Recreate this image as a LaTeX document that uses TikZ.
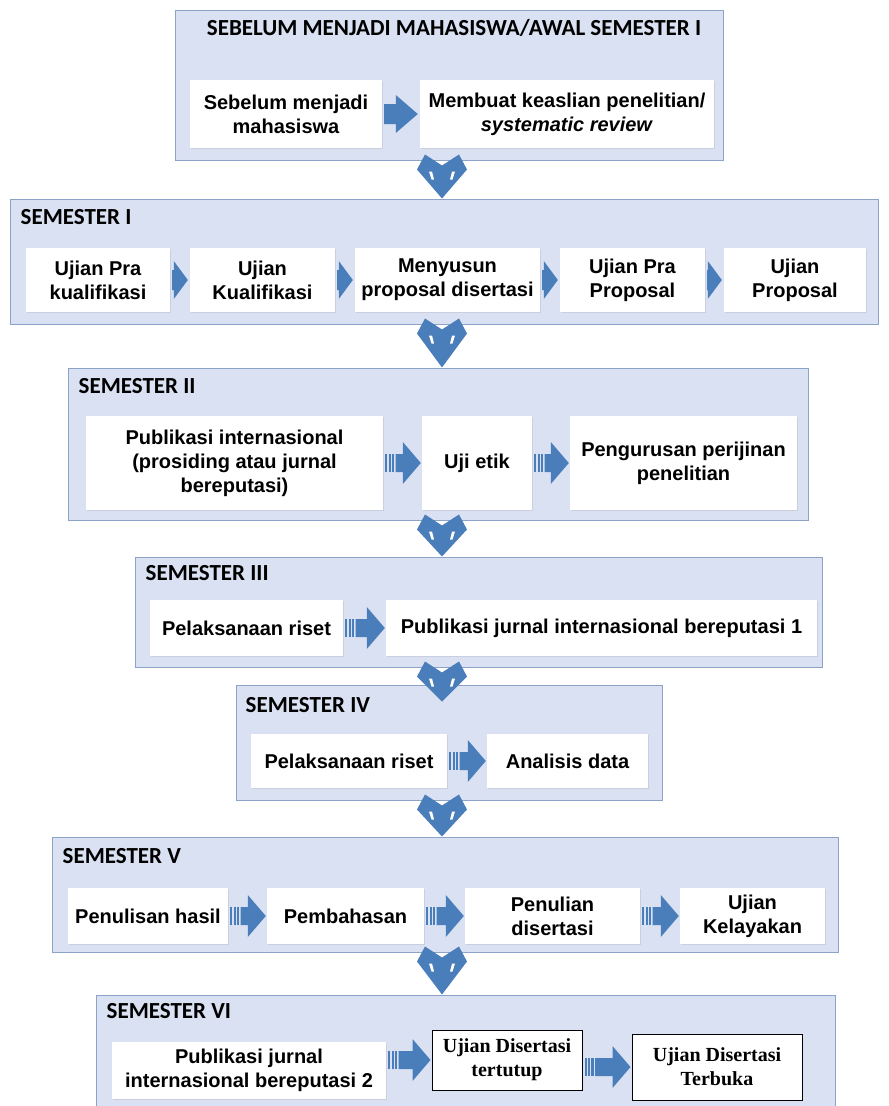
\documentclass[tikz,border=0pt]{standalone}
\usepackage{fontspec}
\setmainfont{Liberation Sans}
\newfontfamily\titlefont{Carlito}
\newfontfamily\examfont{Liberation Serif}
\usetikzlibrary{calc,shadows}

\definecolor{panelfill}{RGB}{218,225,242}
\definecolor{paneldraw}{RGB}{140,163,199}
\definecolor{arrowblue}{RGB}{74,126,187}

% plain block arrow between two cards
\newcommand{\flowarrow}[3][14]{%
  \fill[arrowblue] ($(#2.east|-#3.west)+(2,-10)$) -- ($(#3.west)+(-#1-2,-10)$) -- ($(#3.west)+(-#1-2,-19)$)
    -- ($(#3.west)+(-2,0)$) -- ($(#3.west)+(-#1-2,19)$) -- ($(#3.west)+(-#1-2,10)$) -- ($(#2.east|-#3.west)+(2,10)$) -- cycle;}
% block arrow with stripes at its tail
\newcommand{\stripearrow}[2]{%
  \foreach \k in {0,1,2} {\fill[arrowblue] ($(#1.east|-#2.west)+(2+3.4*\k,-9)$) rectangle ++(2.2,18);}
  \fill[arrowblue] ($(#1.east|-#2.west)+(12.5,-9)$) -- ($(#2.west)+(-19,-9)$) -- ($(#2.west)+(-19,-21)$)
    -- ($(#2.west)+(-1,0)$) -- ($(#2.west)+(-19,21)$) -- ($(#2.west)+(-19,9)$) -- ($(#1.east|-#2.west)+(12.5,9)$) -- cycle;}
% chevron from one semester panel down to the next
\newcommand{\semarrow}[3][0]{%
  \fill[arrowblue] let \p1=(axis|-#2.south), \p2=(axis|-#3.north) in
    (\x1-17pt,\y1+6pt) -- (\x1,\y1-5pt) -- (\x1+17pt,\y1+6pt) -- (\x1+25pt,\y1-9pt)
    -- (\x1,\y2-#1pt) -- (\x1-25pt,\y1-9pt) -- cycle;
  \fill[white] let \p1=(axis|-#2.south) in
    (\x1-13pt,\y1-11pt) -- (\x1-10pt,\y1-11pt) -- (\x1-8pt,\y1-19pt) -- (\x1-10.5pt,\y1-19pt) -- cycle
    (\x1+13pt,\y1-11pt) -- (\x1+10pt,\y1-11pt) -- (\x1+8pt,\y1-19pt) -- (\x1+10.5pt,\y1-19pt) -- cycle;}

\begin{document}
\begin{tikzpicture}[x=1pt,y=-1pt,
	panel/.style={rectangle, fill=panelfill, draw=paneldraw, line width=1pt},
	sem/.style={anchor=west, inner sep=0pt, font=\titlefont\bfseries\fontsize{23}{26}\selectfont},
	card/.style={rectangle, fill=white, align=center, inner sep=2pt,
		drop shadow={opacity=0.18, shadow xshift=1.2pt, shadow yshift=-1.2pt},
		font=\bfseries\fontsize{20}{24}\selectfont},
	exam/.style={rectangle, fill=white, draw=black, line width=1pt, align=center, inner sep=2pt,
		font=\examfont\bfseries\fontsize{20}{24}\selectfont}
	]
	\useasboundingbox (0,0) rectangle (889,1106);
	\coordinate (axis) at (442,0);

	\node (sem0) [panel, minimum width=548pt, minimum height=150pt] at (449,85) {};
		\node (sem0t) [sem, anchor=center] at ($(sem0.north)+(5,18)$) {SEBELUM MENJADI MAHASISWA/AWAL SEMESTER I};
		\node (before) [card, minimum width=192pt, minimum height=68pt] at (286,114) {Sebelum menjadi\\mahasiswa};
		\node (review) [card, minimum width=294pt, minimum height=68pt] at (567,114) {Membuat keaslian penelitian/\\\textit{systematic review}};

	\node (sem1) [panel, minimum width=868pt, minimum height=125pt] at (444,261.5) {};
		\node (sem1t) [sem] at ($(sem1.north west)+(11,19)$) {SEMESTER I};
		\node (praku) [card, minimum width=144pt, minimum height=64pt] at (98,280) {Ujian Pra\\kualifikasi};
		\node (kuali) [card, minimum width=145pt, minimum height=64pt] at (262.5,280) {Ujian\\Kualifikasi};
		\node (susun) [card, minimum width=185pt, minimum height=64pt] at (447.5,280) {Menyusun\\proposal disertasi};
		\node (prapro) [card, minimum width=145pt, minimum height=64pt] at (632.5,280) {Ujian Pra\\Proposal};
		\node (proposal) [card, minimum width=142pt, minimum height=64pt] at (795,280) {Ujian\\Proposal};

	\node (sem2) [panel, minimum width=740pt, minimum height=152pt] at (438,444) {};
		\node (sem2t) [sem] at ($(sem2.north west)+(11,19)$) {SEMESTER II};
		\node (pubint) [card, minimum width=297pt, minimum height=94pt] at (234.5,463) {Publikasi internasional\\(prosiding atau jurnal\\bereputasi)};
		\node (etik) [card, minimum width=110pt, minimum height=94pt] at (477,463) {Uji etik};
		\node (ijin) [card, minimum width=227pt, minimum height=94pt] at (683.5,463) {Pengurusan perijinan\\penelitian};

	\node (sem3) [panel, minimum width=687pt, minimum height=110pt] at (478.5,612) {};
		\node (sem3t) [sem] at ($(sem3.north west)+(11,17)$) {SEMESTER III};
		\node (riset1) [card, minimum width=193pt, minimum height=56pt] at (246.5,628) {Pelaksanaan riset};
		\node (jurnal1) [card, minimum width=431pt, minimum height=56pt] at (601.5,628) {Publikasi jurnal internasional bereputasi 1};

	\node (sem4) [panel, minimum width=426pt, minimum height=115pt] at (449,742.5) {};
		\node (sem4t) [sem] at ($(sem4.north west)+(10,21)$) {SEMESTER IV};
		\node (riset2) [card, minimum width=196pt, minimum height=54pt] at (349,761) {Pelaksanaan riset};
		\node (analisis) [card, minimum width=161pt, minimum height=54pt] at (567.5,761) {Analisis data};

	\node (sem5) [panel, minimum width=786pt, minimum height=115pt] at (445,894.5) {};
		\node (sem5t) [sem] at ($(sem5.north west)+(11,20)$) {SEMESTER V};
		\node (hasil) [card, minimum width=160pt, minimum height=56pt] at (148,916) {Penulisan hasil};
		\node (bahas) [card, minimum width=157pt, minimum height=56pt] at (345.5,916) {Pembahasan};
		\node (tulis) [card, minimum width=175pt, minimum height=56pt] at (552.5,916) {Penulian\\disertasi};
		\node (layak) [card, minimum width=145pt, minimum height=56pt] at (752.5,916) {Ujian\\Kelayakan};

	\node (sem6) [panel, minimum width=739pt, minimum height=130pt] at (465.5,1060) {};
		\node (sem6t) [sem] at ($(sem6.north west)+(11,17)$) {SEMESTER VI};
		\node (jurnal2) [card, minimum width=274pt, minimum height=57pt] at (249,1070.5) {Publikasi jurnal\\internasional bereputasi 2};
		\node (tertutup) [exam, minimum width=150pt, minimum height=60pt] at (507,1060) {Ujian Disertasi\\tertutup};
		\node (terbuka) [exam, minimum width=170pt, minimum height=66pt] at (717,1067) {Ujian Disertasi\\Terbuka};

	\flowarrow[22]{before}{review}
	\flowarrow{praku}{kuali}
	\flowarrow{kuali}{susun}
	\flowarrow{susun}{prapro}
	\flowarrow{prapro}{proposal}
	\stripearrow{pubint}{etik}
	\stripearrow{etik}{ijin}
	\stripearrow{riset1}{jurnal1}
	\stripearrow{riset2}{analisis}
	\stripearrow{hasil}{bahas}
	\stripearrow{bahas}{tulis}
	\stripearrow{tulis}{layak}
	\stripearrow{jurnal2}{tertutup}
	\stripearrow{tertutup}{terbuka}

	\semarrow{sem0}{sem1}
	\semarrow{sem1}{sem2}
	\semarrow{sem2}{sem3}
	\semarrow[17]{sem3}{sem4}
	\semarrow{sem4}{sem5}
	\semarrow{sem5}{sem6}
\end{tikzpicture}
\end{document}
